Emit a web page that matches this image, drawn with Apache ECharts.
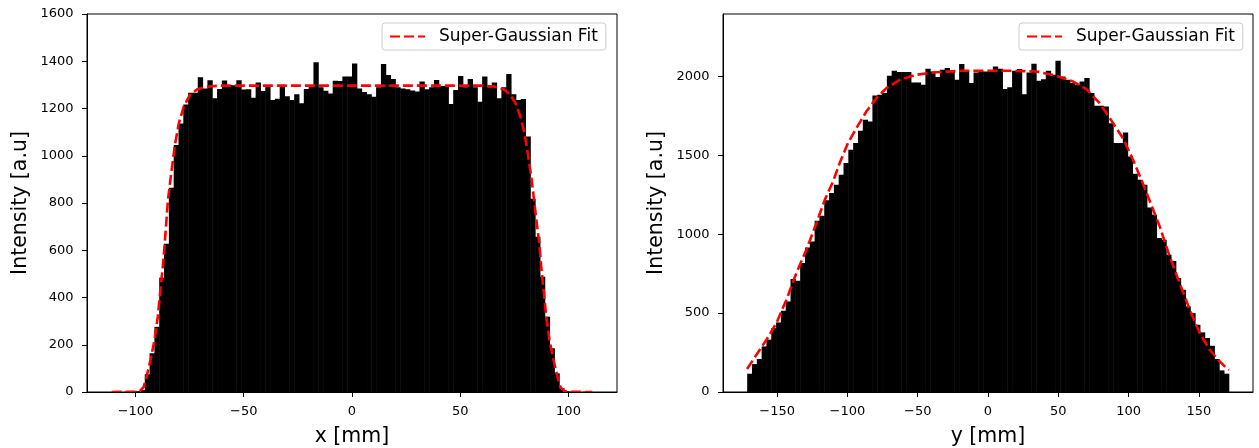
<!DOCTYPE html>
<html><head><meta charset="utf-8">
<script src="https://cdn.jsdelivr.net/npm/echarts@6/dist/echarts.min.js"></script>
<style>html,body{margin:0;padding:0;background:#fff;}#c{width:1259px;height:448px;}</style>
</head><body><div id="c"></div>
<script>
// ---------------- data ----------------
const xBinMin = -111.3, xBinMax = 111.3;
const xCounts = [0,1,0,2,1,3,8,75,164,276,484,628,865,1045,1137,1217,1267,1267,1332,1285,
  1320,1243,1283,1318,1300,1298,1320,1280,1282,1245,1310,1274,1292,1236,1241,1292,1252,1236,1260,1222,
  1283,1291,1396,1290,1275,1264,1317,1316,1335,1335,1391,1285,1270,1260,1250,1290,1388,1342,1325,1290,
  1285,1281,1276,1272,1314,1281,1290,1321,1295,1295,1219,1278,1338,1290,1325,1290,1229,1335,1290,1310,
  1243,1290,1346,1260,1236,1240,1081,818,657,488,319,185,79,16,3,1,2,0,1,0];
const yBinMin = -171.3, yBinMax = 171.3;
const yCounts = [116,177,209,289,332,405,441,515,574,716,705,817,916,954,1085,1117,1215,1261,1314,1377,
  1451,1535,1578,1656,1726,1715,1880,1884,1895,2004,2036,2028,2028,2028,1962,1962,1947,2049,2032,1996,
  2042,2053,2036,1979,2079,2032,1958,2025,2032,2032,2036,2063,2049,1920,1932,2036,2047,1888,2025,2081,
  1973,1983,2036,2011,2100,2000,1979,1958,1947,1968,1990,1895,1814,1814,1810,1704,1578,1578,1645,1493,
  1384,1346,1314,1170,1124,976,965,870,830,722,648,543,500,426,378,342,293,209,137,116];
const xFit = [[-111,0],[-100,1],[-98,4],[-96.2,22],[-94.9,65],[-93.1,135],[-91.2,220],[-89.7,319],[-88.5,432],
  [-87.4,530],[-86.5,629],[-85.7,728],[-85,813],[-83.5,926],[-81.8,1045],[-80,1137],[-77.7,1208],[-74.9,1257],
  [-71.5,1281],[-66.9,1292],[-60.7,1297],[0,1297],[60,1297],[65.5,1293],[70.1,1281],[73.2,1257],[75.5,1222],
  [77.8,1165],[79.7,1094],[81.2,1010],[82.8,911],[84,820],[85,740],[85.8,680],[86.5,629],[87.4,530],[88.5,432],
  [89.7,319],[91.2,220],[93.1,135],[94.9,65],[96.2,22],[98,4],[100,1],[111,0]];
const yFit = [[-171.4,146],[-164.7,236],[-157.6,331],[-150.5,437],[-143.4,585],[-136.3,754],[-129.2,902],
  [-122,1071],[-116.1,1218],[-110.2,1335],[-105.5,1451],[-99.6,1578],[-93.6,1673],[-86.5,1778],[-79.4,1863],
  [-72.3,1926],[-62.8,1979],[-50.9,2011],[-39.1,2025],[-20.1,2036],[15.4,2036],[34.4,2032],[48.6,2004],
  [60.5,1968],[70,1920],[79.4,1831],[86.6,1736],[96,1609],[103.1,1472],[109.1,1346],[113.8,1240],
  [122.1,1050],[129.2,860],[136.3,690],[143.5,521],[150.6,373],[157.7,268],[163.6,205],[169.6,152],[171.4,140]];
const xPosTicks = [-100,-50,0,50,100];
const xIntTicks = [0,200,400,600,800,1000,1200,1400,1600];
const yPosTicks = [-150,-100,-50,0,50,100,150];
const yIntTicks = [0,500,1000,1500,2000];
const fitName = 'Super-Gaussian Fit';

// ---------------- chart ----------------
function binRows(min, max, counts) {
  const w = (max - min) / counts.length;
  return counts.map((c, i) => [min + i * w, min + (i + 1) * w, c]);
}
function renderBar(params, api) {
  const p0 = api.coord([api.value(0), api.value(2)]);
  const p1 = api.coord([api.value(1), 0]);
  return { type: 'rect',
    shape: { x: p0[0], y: p0[1], width: p1[0] - p0[0] + 0.5, height: p1[1] - p0[1] },
    style: { fill: '#000' } };
}
const FONT = 'DejaVu Sans';
const plain = v => String(v).replace('-', '\u2212');
function xAxisDef(idx, min, max, ticks, name) {
  return { type: 'value', gridIndex: idx, min: min, max: max, z: 10,
    name: name, nameLocation: 'middle', nameGap: 34,
    nameTextStyle: { fontSize: 20.5, fontFamily: FONT, color: '#000' },
    axisLine: { show: true, onZero: false, lineStyle: { color: '#000', width: 1 } },
    axisTick: { show: true, length: 5, inside: false, customValues: ticks, lineStyle: { color: '#000', width: 1 } },
    axisLabel: { customValues: ticks, margin: 13, fontSize: 13, fontFamily: FONT, color: '#000', formatter: plain },
    splitLine: { show: false } };
}
function yAxisDef(idx, max, ticks) {
  return { type: 'value', gridIndex: idx, min: 0, max: max, z: 10,
    name: 'Intensity [a.u]', nameLocation: 'middle', nameGap: 56,
    nameTextStyle: { fontSize: 20.5, fontFamily: FONT, color: '#000' },
    axisLine: { show: true, onZero: false, lineStyle: { color: '#000', width: 1 } },
    axisTick: { show: true, length: 5, inside: false, customValues: ticks, lineStyle: { color: '#000', width: 1 } },
    axisLabel: { customValues: ticks, margin: 13.5, fontSize: 13, fontFamily: FONT, color: '#000', formatter: plain },
    splitLine: { show: false } };
}
function legendDef(left) {
  return { data: [fitName], left: left, top: 23, orient: 'horizontal',
    backgroundColor: 'rgba(255,255,255,0.8)', borderColor: '#cccccc', borderWidth: 1, borderRadius: 3,
    padding: [5, 8, 5, 7], itemWidth: 35, itemHeight: 18,
    itemStyle: { opacity: 0 },
    lineStyle: { opacity: 1 },
    textStyle: { fontSize: 17, fontFamily: FONT, color: '#000', padding: [0, 0, 0, 9] } };
}
function fitSeries(idx, data) {
  return { name: fitName, type: 'line', xAxisIndex: idx, yAxisIndex: idx, data: data,
    symbol: 'none', smooth: false, z: 5,
    itemStyle: { color: '#ff0000' },
    lineStyle: { color: '#ff0000', width: 2.6, type: [10, 4] } };
}
const chart = echarts.init(document.getElementById('c'), null, { renderer: 'canvas' });
chart.setOption({
  animation: false,
  backgroundColor: '#fff',
  grid: [
    { left: 87, top: 14, width: 530, height: 378, outerBoundsMode: 'none', containLabel: false,
      show: true, borderColor: '#000', borderWidth: 1, backgroundColor: 'transparent' },
    { left: 723, top: 14, width: 530, height: 378, outerBoundsMode: 'none', containLabel: false,
      show: true, borderColor: '#000', borderWidth: 1, backgroundColor: 'transparent' }
  ],
  xAxis: [ xAxisDef(0, -122.4, 122.4, xPosTicks, 'x [mm]'), xAxisDef(1, -188.5, 188.5, yPosTicks, 'y [mm]') ],
  yAxis: [ yAxisDef(0, 1600, xIntTicks), yAxisDef(1, 2396, yIntTicks) ],
  legend: [ legendDef(382), legendDef(1019) ],
  series: [
    { name: 'x histogram', type: 'custom', xAxisIndex: 0, yAxisIndex: 0, renderItem: renderBar, clip: true,
      encode: { x: [0, 1], y: 2 }, data: binRows(xBinMin, xBinMax, xCounts), z: 2 },
    { name: 'y histogram', type: 'custom', xAxisIndex: 1, yAxisIndex: 1, renderItem: renderBar, clip: true,
      encode: { x: [0, 1], y: 2 }, data: binRows(yBinMin, yBinMax, yCounts), z: 2 },
    fitSeries(0, xFit),
    fitSeries(1, yFit)
  ]
});
</script>
</body></html>
